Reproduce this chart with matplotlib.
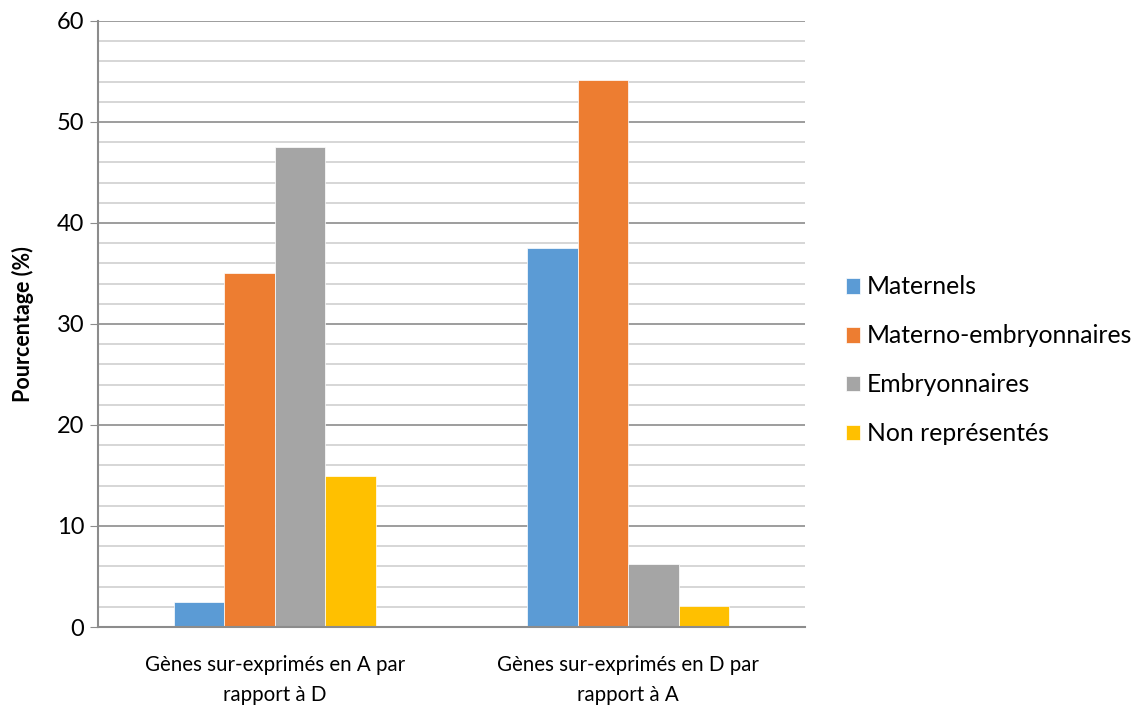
import numpy as np
import matplotlib.pyplot as plt
from matplotlib.ticker import MultipleLocator

# données
categories = ["Gènes sur-exprimés en A par\nrapport à D", "Gènes sur-exprimés en D par\nrapport à A"]
series = ["Maternels", "Materno-embryonnaires", "Embryonnaires", "Non représentés"]
maternels = [2.5, 37.5]
materno_embryonnaires = [35.0, 54.17]
embryonnaires = [47.5, 6.25]
non_representes = [15.0, 2.08]
colors = ["#5b9bd5", "#ed7d31", "#a5a5a5", "#ffc000"]

plt.rcParams['font.family'] = ['Lato', 'DejaVu Sans']

fig = plt.figure(figsize=(11.45, 7.06), dpi=100)
ax = fig.add_axes([98 / 1145, 1 - 627 / 706, 707 / 1145, 606 / 706])

x = np.arange(len(categories))
width = 0.143
values = [maternels, materno_embryonnaires, embryonnaires, non_representes]
for i, (name, vals) in enumerate(zip(series, values)):
    ax.bar(x + (i - 1.5) * width, vals, width, color=colors[i], label=name,
           edgecolor="white", linewidth=0.5, zorder=3)

ax.set_xlim(-0.5, 1.5)
ax.set_ylim(0, 60)
ax.yaxis.set_major_locator(MultipleLocator(10))
ax.yaxis.set_minor_locator(MultipleLocator(2))
ax.grid(axis="y", which="major", color="#8c8c8c", linewidth=1.2, zorder=0)
ax.grid(axis="y", which="minor", color="#d0d0d0", linewidth=1.2, zorder=0)

for s in ["top", "right"]:
    ax.spines[s].set_visible(False)
for s in ["left", "bottom"]:
    ax.spines[s].set_color("#8c8c8c")
    ax.spines[s].set_linewidth(1.5)
ax.spines["bottom"].set_zorder(4)

ax.set_xticks(x)
ax.set_xticklabels(categories, fontsize=14.8, linespacing=1.65)
ax.tick_params(axis="x", length=0, pad=20)
ax.tick_params(axis="y", which="major", length=6, color="#8c8c8c", labelsize=17, pad=4)
ax.tick_params(axis="y", which="minor", length=0)

ax.set_ylabel("Pourcentage (%)", fontsize=15.5, fontweight="bold", labelpad=16)

ax.legend(loc="center left", bbox_to_anchor=(1.026, 0.44), frameon=False,
          fontsize=17.8, handlelength=0.6, handleheight=0.6, handletextpad=0.25,
          labelspacing=1.05)

fig.savefig("out.png", dpi=100)
